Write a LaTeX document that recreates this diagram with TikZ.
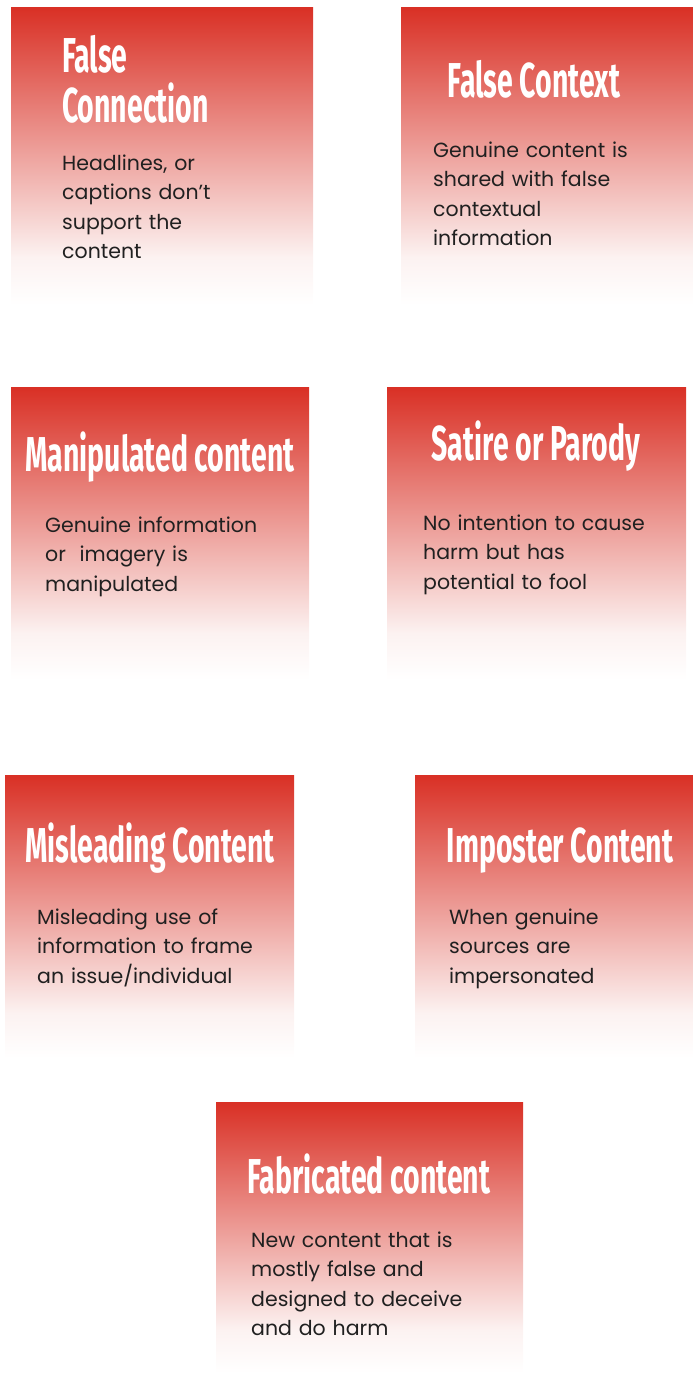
\documentclass[tikz,border=0pt]{standalone}
\usepackage{fontspec}
\setmainfont{Poppins}
\newfontfamily\titlefont[FakeStretch=0.58]{Fira Sans}
\usetikzlibrary{positioning}
\definecolor{boxred}{RGB}{217,48,37}
\definecolor{bodygray}{RGB}{32,32,32}
\definecolor{fadepink}{RGB}{252,242,241}
\pgfdeclareverticalshading{redfade}{100bp}{color(0bp)=(white); color(25bp)=(white); color(33bp)=(fadepink); color(75bp)=(boxred); color(100bp)=(boxred)}

\begin{document}
\begin{tikzpicture}[x=1pt, y=-1pt,
  card/.style={shading=redfade, draw=none, inner sep=0, anchor=north west},
  heading/.style={text=white, font=\titlefont\bfseries\fontsize{49}{50}\selectfont, inner sep=0, anchor=base},
  blurb/.style={text=bodygray, font=\fontsize{20.5}{29.5}\selectfont, text width=300, align=left, inner sep=0, anchor=base west}]
\useasboundingbox (0,0) rectangle (693,1373);

% cards
\node [card, minimum width=302, minimum height=298] (connbox) at (11,7) {};
\node [card, minimum width=292, minimum height=298] (ctxbox) at (401,7) {};
\node [card, minimum width=298, minimum height=293] (manbox) at (11,387) {};
\node [card, minimum width=299, minimum height=293] (satbox) at (387,387) {};
\node [card, minimum width=289, minimum height=283] (misbox) at (5,775) {};
\node [card, minimum width=278, minimum height=283] (impbox) at (415,775) {};
\node [card, minimum width=307, minimum height=271] (fabbox) at (216,1102) {};

% headings
\node [heading, anchor=base west, text width=250, align=left] (connhead) at (62,72) {False\\Connection};
\node [heading] (ctxhead) at (534,97) {False Context};
\node [heading] (manhead) at (160,471) {Manipulated content};
\node [heading] (sathead) at (536,460) {Satire or Parody};
\node [heading] (mishead) at (150,862) {Misleading Content};
\node [heading] (imphead) at (560,862) {Imposter Content};
\node [heading] (fabhead) at (369,1193) {Fabricated content};

% descriptions
\node [blurb] (conntext) at (62,170) {Headlines, or\\captions don’t\\support the\\content};
\node [blurb] (ctxtext) at (433,157) {Genuine content is\\shared with false\\contextual\\information};
\node [blurb] (mantext) at (45,532) {Genuine information\\or~ imagery is\\manipulated};
\node [blurb] (sattext) at (423,530) {No intention to cause\\harm but has\\potential to fool};
\node [blurb] (mistext) at (37,924) {Misleading use of\\information to frame\\an issue/individual};
\node [blurb] (imptext) at (449,924) {When genuine\\sources are\\impersonated};
\node [blurb] (fabtext) at (251,1247) {New content that is\\mostly false and\\designed to deceive\\and do harm};
\end{tikzpicture}
\end{document}
